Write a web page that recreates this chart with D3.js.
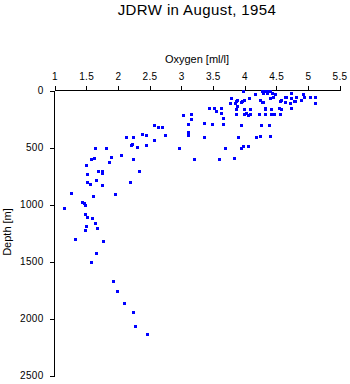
<!DOCTYPE html>
<html>
<head>
<meta charset="utf-8">
<script src="https://cdn.jsdelivr.net/npm/d3@7"></script>
<style>
html,body{margin:0;padding:0;background:#fff;}
svg{display:block;}
text{font-family:"Liberation Sans",Arial,Helvetica,sans-serif;fill:#000;}
</style>
</head>
<body>
<svg id="chart" width="350" height="384"></svg>
<script>
const title = "JDRW in August, 1954";
const xLabel = "Oxygen [ml/l]";
const yLabel = "Depth [m]";
const xTicks = [1, 1.5, 2, 2.5, 3, 3.5, 4, 4.5, 5, 5.5];
const yTicks = [0, 500, 1000, 1500, 2000, 2500];

const oxygen = [
  1.58,1.62,1.89,2.05,2.24,1.86,1.50,1.69,1.75,1.75,2.33,1.51,1.51,1.56,1.66,1.75,2.19,1.26,1.60,1.96,
  1.44,1.47,1.48,1.15,1.48,1.51,1.59,1.64,1.50,1.67,1.48,1.33,1.77,1.66,1.58,1.92,1.98,2.10,2.24,2.27,
  2.46,1.64,1.81,2.13,2.24,2.20,2.23,2.30,2.38,2.45,2.45,2.57,2.64,2.70,2.74,2.57,2.97,3.20,3.03,3.16,
  3.16,3.10,3.11,3.11,3.63,3.55,3.63,3.52,3.44,3.66,3.36,3.49,3.66,3.94,4.26,4.38,3.36,3.90,4.18,4.25,
  4.41,3.69,3.95,3.98,4.06,3.84,3.59,3.97,4.16,4.27,4.32,4.37,4.41,4.29,4.35,4.43,4.48,3.78,3.86,3.96,
  4.00,4.07,4.24,4.29,4.40,4.45,4.56,4.64,3.86,3.86,3.99,4.08,4.00,4.08,4.32,4.42,4.57,4.32,4.42,4.56,
  4.74,4.66,4.74,4.82,4.72,4.79,4.93,4.94,5.03,5.12,5.11,4.74,4.05,4.23,4.47,3.77,3.85,3.88,4.28,4.89,
  4.78,4.64,4.57,3.95,3.88,4.33,4.55,4.03
];
const depth = [
  600,595,580,564,603,625,652,704,704,725,704,731,803,822,787,827,801,901,924,910,
  976,989,1003,1029,1079,1114,1117,1164,1187,1202,1222,1301,1318,1424,1503,1673,1757,1868,1945,2068,
  2140,503,506,406,412,480,465,494,383,389,476,307,316,318,389,430,503,605,211,204,
  248,292,366,386,152,178,196,152,152,239,283,298,298,301,301,301,404,406,406,395,
  397,503,503,491,491,590,605,0,29,0,0,0,0,26,26,26,35,70,88,88,
  79,70,79,99,70,53,88,59,158,202,158,158,202,202,158,158,158,202,202,202,
  26,59,70,59,108,88,29,59,59,59,108,152,213,204,204,108,108,82,105,82,
  94,99,82,105,132,152,152,193
];

const svg = d3.select("#chart");
const x = d3.scaleLinear().domain([1, 5.5]).range([54.5, 339.5]);
const y = d3.scaleLinear().domain([0, 2500]).range([90.5, 375.5]);

svg.append("text").attr("x", 197).attr("y", 15).attr("text-anchor", "middle")
  .style("font-size", "15px").style("letter-spacing", "0.4px").text(title);

svg.append("text").attr("x", 197).attr("y", 63).attr("text-anchor", "middle")
  .style("font-size", "11px").text(xLabel);

svg.append("text").attr("transform", "translate(11,232) rotate(-90)")
  .attr("text-anchor", "middle").style("font-size", "11px").text(yLabel);

const xAxis = d3.axisTop(x).tickValues(xTicks).tickFormat(d => String(d))
  .tickSize(5).tickSizeOuter(0).tickPadding(6);
const gx = svg.append("g").attr("transform", "translate(0,90.5)").call(xAxis);

const yAxis = d3.axisLeft(y).tickValues(yTicks).tickFormat(d => String(d))
  .tickSize(5).tickSizeOuter(0).tickPadding(6);
const gy = svg.append("g").attr("transform", "translate(54.5,0)").call(yAxis);

[gx, gy].forEach(g => {
  g.selectAll("text").style("font-size", "10px").style("letter-spacing", "0.3px")
    .style("font-family", '"Liberation Sans",Arial,sans-serif');
  g.selectAll("path,line").attr("stroke", "#000").attr("shape-rendering", "crispEdges");
});
gy.select(".domain").attr("d", `M0,${y(0)}V${y(2500)}`);
gx.select(".domain").attr("d", `M${x(1)},0H${x(5.5)}`);

const pts = oxygen.map((o, i) => ({o, d: depth[i]}));
svg.append("g").selectAll("rect").data(pts).join("rect")
  .attr("x", p => Math.round(x(p.o)) - 1.5)
  .attr("y", p => Math.round(y(p.d)) - 1.5)
  .attr("width", 3).attr("height", 3)
  .attr("fill", "#0000ff").attr("shape-rendering", "crispEdges");
</script>
</body>
</html>
